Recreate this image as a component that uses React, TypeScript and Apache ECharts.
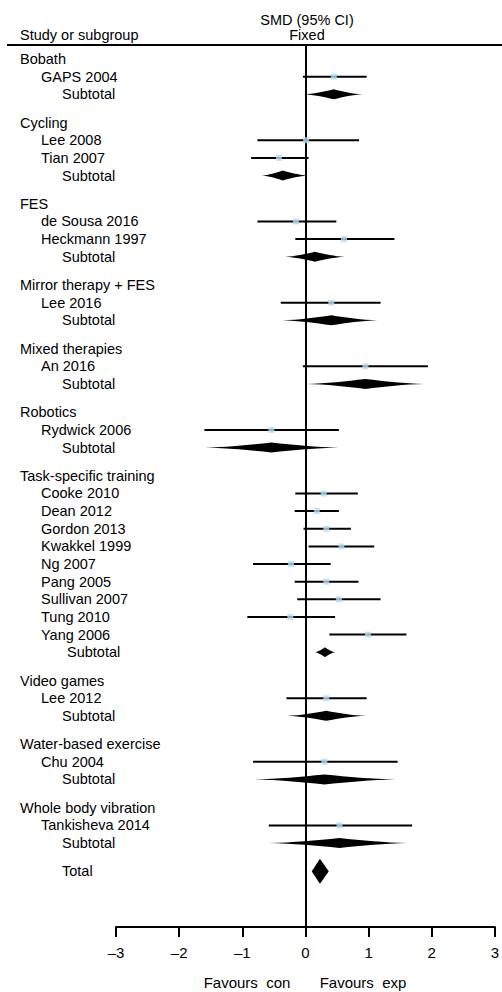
import React, { useEffect, useRef } from "react";
import * as echarts from "echarts";

const groups = [
  "Bobath",
  "Cycling",
  "FES",
  "Mirror therapy + FES",
  "Mixed therapies",
  "Robotics",
  "Task-specific training",
  "Video games",
  "Water-based exercise",
  "Whole body vibration",
];
const studies = [
  "GAPS 2004", "Lee 2008", "Tian 2007", "de Sousa 2016", "Heckmann 1997", "Lee 2016", "An 2016",
  "Rydwick 2006", "Cooke 2010", "Dean 2012", "Gordon 2013", "Kwakkel 1999", "Ng 2007", "Pang 2005",
  "Sullivan 2007", "Tung 2010", "Yang 2006", "Lee 2012", "Chu 2004", "Tankisheva 2014",
];
const studyGroup = [0, 1, 1, 2, 2, 3, 4, 5, 6, 6, 6, 6, 6, 6, 6, 6, 6, 7, 8, 9];
const studySmd = [0.45, 0.01, -0.42, -0.15, 0.61, 0.41, 0.95, -0.54, 0.29, 0.18, 0.33, 0.57, -0.23, 0.33, 0.53, -0.24, 0.99, 0.33, 0.3, 0.54];
const studyLower = [-0.04, -0.76, -0.86, -0.76, -0.16, -0.39, -0.04, -1.6, -0.16, -0.17, -0.03, 0.05, -0.83, -0.17, -0.13, -0.92, 0.38, -0.3, -0.83, -0.58];
const studyUpper = [0.97, 0.85, 0.05, 0.49, 1.41, 1.19, 1.94, 0.53, 0.83, 0.53, 0.72, 1.09, 0.4, 0.84, 1.19, 0.47, 1.6, 0.97, 1.46, 1.69];
const subtotalSmd = [0.45, -0.36, 0.15, 0.41, 0.95, -0.54, 0.31, 0.33, 0.3, 0.54];
const subtotalLower = [-0.03, -0.69, -0.32, -0.37, 0.02, -1.59, 0.15, -0.29, -0.81, -0.57];
const subtotalUpper = [0.9, 0.04, 0.62, 1.14, 1.88, 0.53, 0.47, 0.95, 1.43, 1.61];
const totalSmd = 0.23;
const totalLower = 0.1;
const totalUpper = 0.37;
const xTicks = [-3, -2, -1, 0, 1, 2, 3];
const xTickLabels = ["\u20133", "\u20132", "\u20131", "0", "1", "2", "3"];

const FONT = "Liberation Sans, Arial, Helvetica, sans-serif";
const GAP = 0.605;

type Row = { kind: "group" | "study" | "sub" | "total"; text: string; v: number; idx: number };

function buildRows(): Row[] {
  const rows: Row[] = [];
  let k = 0;
  groups.forEach((name, g) => {
    rows.push({ kind: "group", text: name, v: k + g * GAP, idx: g });
    k++;
    studies.forEach((s, i) => {
      if (studyGroup[i] === g) {
        rows.push({ kind: "study", text: s, v: k + g * GAP, idx: i });
        k++;
      }
    });
    rows.push({ kind: "sub", text: "Subtotal", v: k + g * GAP, idx: g });
    k++;
  });
  rows.push({ kind: "total", text: "Total", v: k + groups.length * GAP, idx: 0 });
  return rows;
}

export default function App() {
  const ref = useRef<HTMLDivElement>(null);
  useEffect(() => {
    if (!ref.current) return;
    const chart = echarts.init(ref.current, null, { renderer: "svg" });
    const rows = buildRows();
    const studyRows = rows.filter((r) => r.kind === "study");
    const subRows = rows.filter((r) => r.kind === "sub");
    const totalRow = rows.find((r) => r.kind === "total")!;

    const ciData = studyRows.map((r) => [studyLower[r.idx], studyUpper[r.idx], r.v]);
    const pointData = studyRows.map((r) => [studySmd[r.idx], r.v]);
    const diamondData = subRows.map((r) => [subtotalLower[r.idx], subtotalUpper[r.idx], subtotalSmd[r.idx], r.v, 0]);
    diamondData.push([totalLower, totalUpper, totalSmd, totalRow.v, 1]);

    const indentOf = (r: Row) => {
      if (r.kind === "group") return 20;
      if (r.kind === "study") return 41;
      if (r.kind === "sub" && r.idx === 6) return 67;
      return 62;
    };

    const option: any = {
      animation: false,
      grid: { left: 116, right: 3, top: 45, bottom: 65, containLabel: false },
      xAxis: {
        type: "value",
        min: -3,
        max: 3,
        interval: 1,
        axisLine: { show: true, onZero: false, lineStyle: { color: "#000", width: 2 } },
        axisTick: { show: true, length: 10, lineStyle: { color: "#000", width: 2 } },
        axisLabel: {
          margin: 18,
          color: "#000",
          fontFamily: FONT,
          fontSize: 15,
          formatter: (val: number) => xTickLabels[xTicks.indexOf(Math.round(val))] ?? String(val),
        },
        splitLine: { show: false },
      },
      yAxis: {
        type: "value",
        inverse: true,
        min: -0.794,
        max: 49.206,
        show: false,
      },
      graphic: [
        { type: "text", x: 307, y: 20, style: { text: "SMD (95% CI)", fill: "#000", font: `14.5px ${FONT}`, align: "center", verticalAlign: "middle" } },
        { type: "text", x: 307, y: 35, style: { text: "Fixed", fill: "#000", font: `14.5px ${FONT}`, align: "center", verticalAlign: "middle" } },
        { type: "text", x: 20, y: 35, style: { text: "Study or subgroup", fill: "#000", font: `14.5px ${FONT}`, align: "left", verticalAlign: "middle" } },
        { type: "line", shape: { x1: 7, y1: 45, x2: 502, y2: 45 }, style: { stroke: "#000", lineWidth: 2 } },
        { type: "text", x: 247, y: 982, style: { text: "Favours  con", fill: "#000", font: `15px ${FONT}`, align: "center", verticalAlign: "middle" } },
        { type: "text", x: 363, y: 982, style: { text: "Favours  exp", fill: "#000", font: `15px ${FONT}`, align: "center", verticalAlign: "middle" } },
      ],
      series: [
        {
          type: "custom",
          name: "ci",
          clip: false,
          data: ciData,
          renderItem: (params: any, api: any) => {
            const a = api.coord([api.value(0), api.value(2)]);
            const b = api.coord([api.value(1), api.value(2)]);
            return {
              type: "line",
              shape: { x1: a[0], y1: a[1], x2: b[0], y2: b[1] },
              style: { stroke: "#000", lineWidth: 2 },
            };
          },
          markLine: {
            silent: true,
            symbol: "none",
            label: { show: false },
            lineStyle: { color: "#000", width: 2, type: "solid" },
            data: [{ xAxis: 0 }],
          },
          z: 3,
        },
        {
          type: "scatter",
          name: "points",
          symbol: "rect",
          symbolSize: 6,
          itemStyle: { color: "#b7dbf1" },
          data: pointData,
          z: 5,
        },
        {
          type: "custom",
          name: "diamonds",
          clip: false,
          data: diamondData,
          renderItem: (params: any, api: any) => {
            const v = api.value(3);
            const isTotal = api.value(4) === 1;
            const L = api.coord([api.value(0), v]);
            const R = api.coord([api.value(1), v]);
            const C = api.coord([api.value(2), v]);
            const h = isTotal ? 12.5 : 5;
            const p = isTotal ? 1 : 1.5;
            const n = 8;
            const top: number[][] = [];
            const bottom: number[][] = [];
            for (let i = 0; i <= n; i++) {
              const t = i / n;
              top.push([L[0] + (C[0] - L[0]) * t, C[1] - h * Math.pow(t, p)]);
            }
            for (let i = n - 1; i >= 0; i--) {
              const t = i / n;
              top.push([R[0] + (C[0] - R[0]) * t, C[1] - h * Math.pow(t, p)]);
            }
            for (let i = 1; i <= n; i++) {
              const t = i / n;
              bottom.push([R[0] + (C[0] - R[0]) * t, C[1] + h * Math.pow(t, p)]);
            }
            for (let i = n - 1; i >= 1; i--) {
              const t = i / n;
              bottom.push([L[0] + (C[0] - L[0]) * t, C[1] + h * Math.pow(t, p)]);
            }
            return {
              type: "polygon",
              shape: { points: top.concat(bottom) },
              style: { fill: "#000" },
            };
          },
          z: 4,
        },
        {
          type: "custom",
          name: "labels",
          clip: false,
          data: rows.map((r) => [0, r.v]),
          renderItem: (params: any, api: any) => {
            const r = rows[params.dataIndex];
            const y = api.coord([0, api.value(1)])[1];
            return {
              type: "text",
              x: indentOf(r),
              y,
              style: {
                text: r.text,
                fill: "#000",
                font: `14.5px ${FONT}`,
                align: "left",
                verticalAlign: "middle",
              },
            };
          },
          z: 6,
        },
      ],
    };
    chart.setOption(option);
    return () => chart.dispose();
  }, []);
  return (
    <div
      ref={ref}
      style={{ position: "absolute", left: 0, top: 0, width: 502, height: 992, background: "#fff" }}
    />
  );
}
